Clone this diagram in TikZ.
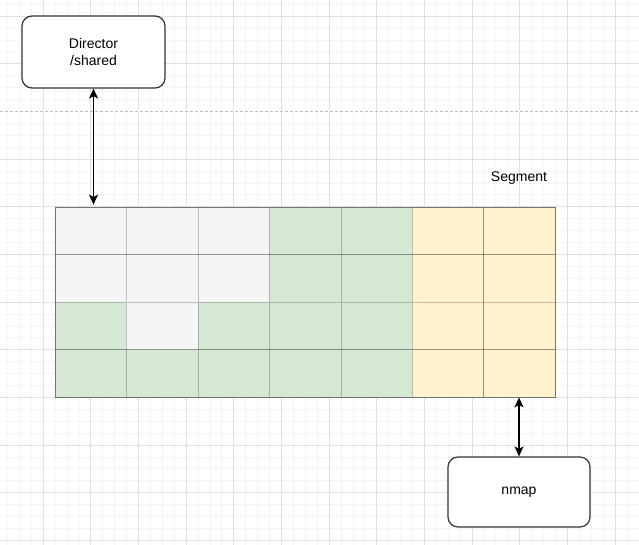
\documentclass[tikz,border=0pt]{standalone}
\usepackage{fontspec}
\setmainfont{Liberation Sans}
\usetikzlibrary{arrows.meta,positioning}
\definecolor{cellgray}{HTML}{F5F5F5}
\definecolor{cellgreen}{HTML}{D5E8D4}
\definecolor{cellyellow}{HTML}{FFF2CC}

\begin{document}
\begin{tikzpicture}[x=1pt,y=-1pt,
  box/.style={draw=black!80,line width=1.2pt,rounded corners=10pt,fill=white,
    minimum width=143pt,minimum height=72pt,align=center,font=\fontsize{14}{17}\selectfont},
  cell/.style={draw=black,draw opacity=0.22,minimum width=71.43pt,minimum height=47.5pt,inner sep=0pt},
  link/.style={{Stealth[length=10pt,width=9pt,inset=2.5pt]}-{Stealth[length=10pt,width=9pt,inset=2.5pt]},line width=1.3pt}]
  \useasboundingbox (0,0) rectangle (639,545);

  % background grid
  \foreach \i in {0,...,52} \draw[black!4] ({7.26+11.9125*\i},0) -- ++(0,545);
  \foreach \j in {0,...,45} \draw[black!4] (0,{4.09+11.9125*\j}) -- ++(639,0);
  \foreach \i in {0,...,12} \draw[black!12] ({43+47.65*\i},0) -- ++(0,545);
  \foreach \j in {0,...,11} \draw[black!12] (0,{16+47.65*\j}) -- ++(639,0);
  \draw[white,line width=1pt] (0,111.3) -- (639,111.3);
  \draw[black!25,dash pattern=on 3pt off 2pt] (0,111.3) -- (639,111.3);

  % segment cells
  \foreach \row/\cols in {
      1/{cellgray,cellgray,cellgray,cellgreen,cellgreen,cellyellow,cellyellow},
      2/{cellgray,cellgray,cellgray,cellgreen,cellgreen,cellyellow,cellyellow},
      3/{cellgreen,cellgray,cellgreen,cellgreen,cellgreen,cellyellow,cellyellow},
      4/{cellgreen,cellgreen,cellgreen,cellgreen,cellgreen,cellyellow,cellyellow}}
    \foreach \c [count=\col] in \cols
      \node[cell,fill=\c] (cell-\row-\col) at ({55+71.43*(\col-1)+35.71},{207+47.5*(\row-1)+23.75}) {};
  \node[draw=black!55,line width=0.8pt,minimum width=500pt,minimum height=190pt,inner sep=0pt] (segment) at (305,302) {};
  \node[font=\fontsize{14}{17}\selectfont] (seglabel) at (519,178) {Segment};

  % boxes
  \node[box] (director) at (93.5,52) {Director\\/shared};
  \node[box,minimum width=142pt,minimum height=70pt] (nmap) at (519,492) {nmap};

  % links
  \draw[link] (director.south) -- ([yshift=2pt]director.south |- segment.north);
  \draw[link] (nmap.north) -- (nmap.north |- segment.south);
\end{tikzpicture}
\end{document}
